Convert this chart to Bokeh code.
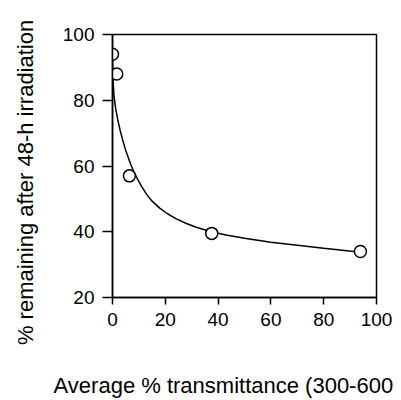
from bokeh.plotting import figure
from bokeh.models import Range1d, FixedTicker, LinearAxis
from bokeh.embed import file_html
from bokeh.resources import INLINE

# measured points
transmittance = [0.0, 1.6, 6.4, 37.6, 93.9]
remaining = [94.0, 88.0, 57.0, 39.5, 34.0]

# fitted curve
curve_x = [0.0, 0.2, 0.6, 1.2, 2.0, 3.0, 4.0, 5.0, 6.0, 7.0, 8.0, 9.5, 11.0, 13.0, 15.0,
           18.0, 21.0, 24.0, 28.0, 32.0, 37.0, 43.0, 50.0, 60.0, 70.0, 80.0, 94.0]
curve_y = [92.0, 86.0, 81.0, 77.5, 74.0, 70.5, 67.5, 64.8, 62.5, 60.3, 58.4, 56.0, 53.8, 51.3, 49.3,
           47.1, 45.4, 44.0, 42.5, 41.3, 40.1, 39.0, 38.0, 36.8, 35.9, 35.0, 33.8]

x_ticks = [0, 20, 40, 60, 80, 100]
y_ticks = [20, 40, 60, 80, 100]

x_label = "Average % transmittance (300-600"
y_label = "% remaining after 48-h irradiation"

# where the axis titles sit (centre of each title, in axis units)
X_TITLE_AT = 42
Y_TITLE_AT = 55

FONT = "Liberation Sans"

p = figure(width=401, height=400, output_backend="svg", toolbar_location=None,
           x_range=Range1d(0, 100), y_range=Range1d(20, 100),
           min_border_left=112, min_border_right=25, min_border_top=34, min_border_bottom=103)
p.background_fill_color = "white"
p.border_fill_color = "white"
p.outline_line_color = "black"
p.outline_line_width = 1.5
p.xgrid.visible = False
p.ygrid.visible = False

for ax, ticks in ((p.xaxis, x_ticks), (p.yaxis, y_ticks)):
    ax.ticker = FixedTicker(ticks=ticks)
    ax.axis_line_color = "black"
    ax.axis_line_width = 1.5
    ax.major_tick_line_color = "black"
    ax.major_tick_line_width = 1.5
    ax.major_tick_in = 0
    ax.minor_tick_line_color = None
    ax.major_label_text_font = FONT
    ax.major_label_text_font_size = "19px"
    ax.major_label_text_color = "black"

p.xaxis.major_tick_out = 7
p.yaxis.major_tick_out = 10
p.xaxis.major_label_standoff = 8
p.yaxis.major_label_standoff = 8

p.line(curve_x, curve_y, line_color="black", line_width=1.5)
p.scatter(transmittance, remaining, marker="circle", size=12,
          fill_color="white", line_color="black", line_width=1.5)


def title_axis(at, text, standoff, orientation):
    a = LinearAxis(ticker=FixedTicker(ticks=[at]), major_label_overrides={at: text},
                   axis_line_color=None, major_tick_line_color=None, minor_tick_line_color=None,
                   major_tick_in=0, major_tick_out=0, major_label_standoff=standoff,
                   major_label_orientation=orientation,
                   major_label_text_font=FONT, major_label_text_font_size="22px",
                   major_label_text_color="black")
    return a


p.add_layout(title_axis(X_TITLE_AT, x_label, 44, "horizontal"), "below")
p.add_layout(title_axis(Y_TITLE_AT, y_label, 22, "vertical"), "left")

open("out.html", "w").write(file_html(p, INLINE))
